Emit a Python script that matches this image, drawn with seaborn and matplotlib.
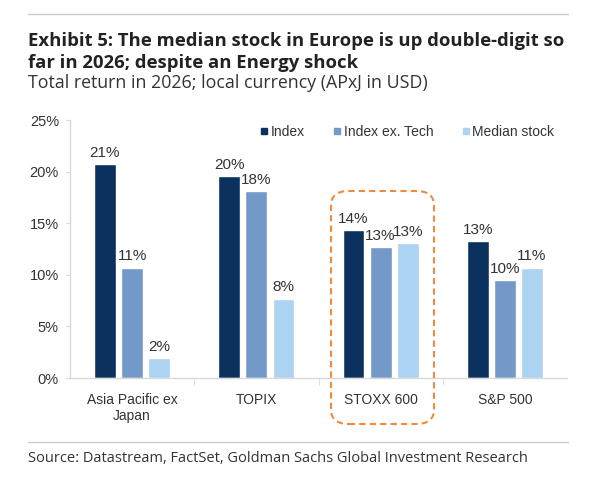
import matplotlib
matplotlib.use("Agg")
import matplotlib.pyplot as plt
import seaborn as sns
import pandas as pd
from matplotlib.patches import FancyBboxPatch
from matplotlib.lines import Line2D

# chart data (total return 2026, %)
markets = ["Asia Pacific ex\nJapan", "TOPIX", "STOXX 600", "S&P 500"]
series = ["Index", "Index ex. Tech", "Median stock"]
index_ret = [20.7, 19.6, 14.3, 13.3]
ex_tech_ret = [10.7, 18.1, 12.7, 9.5]
median_ret = [1.9, 7.7, 13.05, 10.7]

colors = ["#0b325f", "#7299c7", "#acd3f1"]

rows = []
for name, vals in zip(series, [index_ret, ex_tech_ret, median_ret]):
    for m, v in zip(markets, vals):
        rows.append({"market": m, "series": name, "ret": v})
df = pd.DataFrame(rows)

sns.set_style("white")
plt.rcParams["font.family"] = ["Liberation Sans", "DejaVu Sans"]

W, H = 596, 482
fig = plt.figure(figsize=(W / 100, H / 100), dpi=100)
ax = fig.add_axes([70 / W, 1 - 378 / H, (567 - 70) / W, (378 - 120) / H])

sns.barplot(data=df, x="market", y="ret", hue="series", palette=colors,
            width=0.655, gap=0.19, ax=ax, legend=True, saturation=1)

# value labels
for cont in ax.containers:
    ax.bar_label(cont, labels=[f"{round(v)}%" for v in cont.datavalues],
                 padding=3, fontsize=11, color="#333333")

ax.set_xlim(-0.5, 3.5)
ax.set_ylim(0, 25)
ax.set_yticks(range(0, 26, 5))
ax.set_yticklabels([f"{t}%" for t in range(0, 26, 5)])
ax.set_xlabel("")
ax.set_ylabel("")

for side in ["top", "right"]:
    ax.spines[side].set_visible(False)
for side in ["left", "bottom"]:
    ax.spines[side].set_color("#d9d9d9")
    ax.spines[side].set_linewidth(1)

ax.tick_params(axis="y", left=True, length=3, color="#d9d9d9", pad=5,
               labelsize=10.5, labelcolor="#333333")
ax.tick_params(axis="x", bottom=False, pad=7, labelsize=10, labelcolor="#333333")
ax.set_xticks([0.5, 1.5, 2.5], minor=True)
ax.tick_params(axis="x", which="minor", bottom=True, length=5, color="#d9d9d9")

# legend
handles = [Line2D([], [], marker="s", ls="", color=c, markersize=5) for c in colors]
ax.legend(handles, series, ncol=3, loc="upper right", bbox_to_anchor=(1.0, 1.03),
          frameon=False, fontsize=10, handlelength=0.6, handletextpad=0.2,
          columnspacing=2.0, labelcolor="#333333")

# highlight box around STOXX 600
box = FancyBboxPatch((331 / W, 1 - 424 / H), (434 - 331) / W, (424 - 191) / H,
                     boxstyle="round,pad=0,rounding_size=0.03",
                     transform=fig.transFigure, fill=False, edgecolor="#f08a3c",
                     linestyle=(0, (3, 2)), linewidth=1.5)
fig.add_artist(box)

# header / footer
fig.add_artist(Line2D([28 / W, 568 / W], [1 - 14 / H, 1 - 14 / H],
                      transform=fig.transFigure, color="#cccccc", lw=1))
fig.add_artist(Line2D([28 / W, 568 / W], [1 - 442 / H, 1 - 442 / H],
                      transform=fig.transFigure, color="#cccccc", lw=1))
fig.text(28 / W, 1 - 41 / H,
         "Exhibit 5: The median stock in Europe is up double-digit so",
         fontsize=13.3, fontweight="bold", family=["Open Sans", "DejaVu Sans"],
         color="#222222", va="center")
fig.text(28 / W, 1 - 63 / H, "far in 2026; despite an Energy shock",
         fontsize=13.3, fontweight="bold", family=["Open Sans", "DejaVu Sans"],
         color="#222222", va="center")
fig.text(28 / W, 1 - 83 / H, "Total return in 2026; local currency (APxJ in USD)",
         fontsize=12.8, family=["Open Sans", "DejaVu Sans"], color="#333333",
         va="center")
fig.text(28 / W, 1 - 459 / H,
         "Source: Datastream, FactSet, Goldman Sachs Global Investment Research",
         fontsize=10.5, family=["Open Sans", "DejaVu Sans"], color="#333333",
         va="center")

fig.savefig("out.png", dpi=100)
